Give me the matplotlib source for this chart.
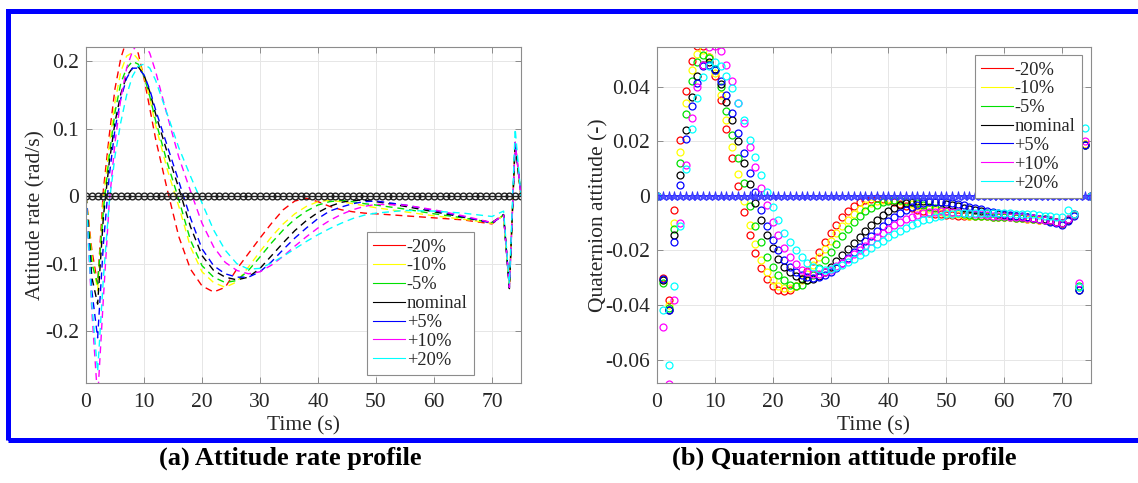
import matplotlib
matplotlib.use("Agg")
import matplotlib.pyplot as plt
from matplotlib.lines import Line2D
from matplotlib.patches import Rectangle

plt.rcParams['font.family'] = ['Liberation Serif', 'DejaVu Serif']
plt.rcParams['axes.unicode_minus'] = False

# legend labels and MATLAB style colours
labels = ['-20%', '-10%', '-5%', 'nominal', '+5%', '+10%', '+20%']
colors = ['#ff0000', '#ffff00', '#00e000', '#000000', '#0000ff', '#ff00ff', '#00ffff']

# ---- (a) attitude rate, rad/s ----
t_rate = [0, 1, 2, 3, 4, 5, 6, 7, 8, 9, 10, 11, 12, 14, 16, 18, 20, 22, 24, 26,
          28, 30, 32, 34, 36, 38, 40, 42, 44, 46, 48, 50, 55, 60, 65, 70, 72, 73, 74, 75]
rate_m20 = [0, -0.08, -0.13, 0.01, 0.09, 0.16, 0.205, 0.232, 0.232, 0.212, 0.175, 0.13, 0.085,
            0.01, -0.06, -0.108, -0.133, -0.142, -0.135, -0.108, -0.085, -0.062, -0.04, -0.02,
            -0.007, -0.003, -0.008, -0.015, -0.02, -0.023, -0.025, -0.026, -0.029, -0.032,
            -0.035, -0.041, -0.028, -0.135, 0.08, 0]
rate_m10 = [0, -0.09, -0.14, -0.005, 0.075, 0.14, 0.185, 0.208, 0.213, 0.203, 0.178, 0.145, 0.105,
            0.04, -0.015, -0.075, -0.112, -0.128, -0.135, -0.127, -0.105, -0.082, -0.06, -0.041,
            -0.026, -0.015, -0.008, -0.006, -0.008, -0.011, -0.014, -0.017, -0.023, -0.029,
            -0.034, -0.04, -0.028, -0.135, 0.08, 0]
rate_m5 = [0, -0.10, -0.13, -0.02, 0.06, 0.125, 0.168, 0.19, 0.2, 0.196, 0.178, 0.148, 0.112,
           0.05, -0.005, -0.065, -0.103, -0.12, -0.128, -0.125, -0.11, -0.09, -0.069, -0.05,
           -0.034, -0.022, -0.013, -0.008, -0.006, -0.008, -0.011, -0.013, -0.019, -0.026,
           -0.032, -0.039, -0.028, -0.135, 0.08, 0]
rate_nom = [0, -0.12, -0.16, -0.03, 0.05, 0.11, 0.152, 0.178, 0.19, 0.192, 0.18, 0.155, 0.122,
            0.065, 0.012, -0.045, -0.088, -0.11, -0.12, -0.124, -0.12, -0.107, -0.088, -0.069,
            -0.051, -0.036, -0.024, -0.015, -0.009, -0.006, -0.006, -0.008, -0.015, -0.023,
            -0.031, -0.039, -0.027, -0.137, 0.08, 0]
rate_p5 = [0, -0.14, -0.21, -0.07, 0.03, 0.1, 0.145, 0.175, 0.19, 0.19, 0.18, 0.158, 0.128,
           0.075, 0.022, -0.032, -0.078, -0.103, -0.115, -0.12, -0.12, -0.112, -0.097, -0.079,
           -0.062, -0.047, -0.033, -0.022, -0.016, -0.011, -0.008, -0.007, -0.013, -0.021,
           -0.03, -0.04, -0.028, -0.135, 0.08, 0]
rate_p10 = [0, -0.17, -0.30, -0.15, -0.01, 0.08, 0.145, 0.19, 0.215, 0.228, 0.228, 0.212, 0.185,
            0.12, 0.058, 0.008, -0.04, -0.075, -0.098, -0.11, -0.115, -0.112, -0.102, -0.089,
            -0.074, -0.06, -0.047, -0.036, -0.027, -0.02, -0.015, -0.012, -0.013, -0.02,
            -0.029, -0.039, -0.028, -0.135, 0.08, 0]
rate_p20 = [0, -0.16, -0.26, -0.12, -0.01, 0.06, 0.11, 0.15, 0.178, 0.193, 0.196, 0.19, 0.172,
            0.122, 0.072, 0.03, -0.01, -0.05, -0.08, -0.1, -0.108, -0.107, -0.099, -0.089,
            -0.078, -0.067, -0.057, -0.048, -0.04, -0.033, -0.028, -0.025, -0.021, -0.022,
            -0.025, -0.03, -0.022, -0.13, 0.1, 0]

# ---- (b) quaternion attitude, one sample per second ----
t_q = list(range(76))
q_m20 = [0, -0.030, -0.038, -0.005, 0.0205, 0.0385, 0.0495, 0.0550, 0.0550, 0.0510,
         0.0440, 0.0350, 0.0245, 0.0140, 0.0035, -0.0060, -0.0145, -0.0210, -0.0265, -0.0305,
         -0.0330, -0.0345, -0.0350, -0.0345, -0.0330, -0.0305, -0.0275, -0.0240, -0.0205, -0.0170,
         -0.0135, -0.0105, -0.0078, -0.0055, -0.0037, -0.0024, -0.0015, -0.0010, -0.0009, -0.0011,
         -0.0016, -0.0022, -0.0029, -0.0036, -0.0043, -0.0050, -0.0056, -0.0061, -0.0065, -0.0068,
         -0.0070, -0.0071, -0.0072, -0.0073, -0.0073, -0.0074, -0.0075, -0.0075, -0.0076, -0.0077,
         -0.0078, -0.0079, -0.0080, -0.0081, -0.0083, -0.0085, -0.0087, -0.0090, -0.0093, -0.0097,
         -0.0102, -0.0088, -0.0070, -0.0335, 0.0190, 0.0]
q_m10 = [0, -0.031, -0.040, -0.010, 0.016, 0.034, 0.046, 0.052, 0.0535, 0.051,
         0.045, 0.037, 0.028, 0.018, 0.008, -0.002, -0.0105, -0.0175, -0.0235, -0.028,
         -0.031, -0.033, -0.0338, -0.0338, -0.033, -0.031, -0.0285, -0.0255, -0.0225, -0.0195,
         -0.0165, -0.0137, -0.011, -0.0087, -0.0066, -0.0049, -0.0035, -0.0025, -0.0018, -0.0014,
         -0.0013, -0.0015, -0.0019, -0.0024, -0.0030, -0.0036, -0.0042, -0.0048, -0.0053, -0.0058,
         -0.0062, -0.0065, -0.0068, -0.0070, -0.0072, -0.0073, -0.0074, -0.0075, -0.0076, -0.0077,
         -0.0078, -0.0079, -0.0080, -0.0081, -0.0083, -0.0085, -0.0087, -0.0090, -0.0093, -0.0097,
         -0.0102, -0.0087, -0.0069, -0.0335, 0.0190, 0.0]
q_m5 = [0, -0.032, -0.041, -0.012, 0.012, 0.030, 0.042, 0.049, 0.0517, 0.0505,
        0.046, 0.040, 0.0313, 0.0224, 0.0138, 0.0046, -0.0037, -0.011, -0.017, -0.0225,
        -0.026, -0.029, -0.031, -0.0325, -0.033, -0.0325, -0.031, -0.029, -0.0265, -0.0235,
        -0.0205, -0.0175, -0.0147, -0.012, -0.0096, -0.0075, -0.0057, -0.0043, -0.0032, -0.0024,
        -0.0019, -0.0016, -0.0016, -0.0018, -0.0022, -0.0027, -0.0033, -0.0039, -0.0045, -0.0051,
        -0.0056, -0.0060, -0.0064, -0.0067, -0.0070, -0.0072, -0.0074, -0.0075, -0.0076, -0.0077,
        -0.0078, -0.0079, -0.0080, -0.0081, -0.0082, -0.0084, -0.0086, -0.0089, -0.0092, -0.0096,
        -0.0101, -0.0086, -0.0068, -0.0330, 0.0185, 0.0]
q_nom = [0, -0.031, -0.042, -0.0143, 0.0077, 0.024, 0.0362, 0.044, 0.048, 0.049,
         0.0465, 0.041, 0.0346, 0.028, 0.020, 0.012, 0.0043, -0.0027, -0.009, -0.0145,
         -0.019, -0.023, -0.026, -0.028, -0.0295, -0.0305, -0.031, -0.0305, -0.0295, -0.028,
         -0.026, -0.024, -0.0218, -0.0195, -0.0172, -0.015, -0.0128, -0.0107, -0.0088, -0.0071,
         -0.0056, -0.0044, -0.0034, -0.0027, -0.0022, -0.0019, -0.0018, -0.0019, -0.0021, -0.0024,
         -0.0028, -0.0033, -0.0038, -0.0043, -0.0048, -0.0053, -0.0057, -0.0061, -0.0064, -0.0067,
         -0.0070, -0.0072, -0.0074, -0.0076, -0.0078, -0.0080, -0.0083, -0.0086, -0.0090, -0.0095,
         -0.0101, -0.0087, -0.0068, -0.0345, 0.0185, 0.0]
q_p5 = [0, -0.0305, -0.042, -0.0168, 0.004, 0.0208, 0.0328, 0.0413, 0.0475, 0.048,
        0.0462, 0.042, 0.037, 0.0303, 0.023, 0.0157, 0.0083, 0.0015, -0.005, -0.011,
        -0.016, -0.020, -0.0235, -0.026, -0.028, -0.029, -0.0298, -0.030, -0.0298, -0.029,
        -0.0278, -0.0263, -0.0245, -0.0226, -0.0206, -0.0186, -0.0166, -0.0146, -0.0127, -0.0109,
        -0.0092, -0.0077, -0.0063, -0.0051, -0.0041, -0.0033, -0.0027, -0.0023, -0.0021, -0.0021,
        -0.0023, -0.0026, -0.0030, -0.0034, -0.0039, -0.0044, -0.0049, -0.0054, -0.0058, -0.0062,
        -0.0066, -0.0069, -0.0072, -0.0075, -0.0078, -0.0081, -0.0085, -0.0089, -0.0094, -0.0101,
        -0.0108, -0.0092, -0.0072, -0.0345, 0.0188, 0.0]
q_p10 = [0, -0.048, -0.069, -0.038, -0.0098, 0.0114, 0.0285, 0.040, 0.048, 0.0545,
         0.055, 0.053, 0.048, 0.042, 0.034, 0.0267, 0.018, 0.0105, 0.0028, -0.0033,
         -0.0095, -0.0145, -0.019, -0.0225, -0.025, -0.027, -0.028, -0.0285, -0.0285, -0.028,
         -0.027, -0.0258, -0.0245, -0.023, -0.0214, -0.0198, -0.0182, -0.0166, -0.0150, -0.0135,
         -0.0120, -0.0107, -0.0095, -0.0085, -0.0076, -0.0069, -0.0064, -0.0060, -0.0058, -0.0057,
         -0.0057, -0.0058, -0.0060, -0.0062, -0.0064, -0.0066, -0.0068, -0.0070, -0.0072, -0.0073,
         -0.0075, -0.0076, -0.0077, -0.0079, -0.0080, -0.0082, -0.0084, -0.0087, -0.0090, -0.0094,
         -0.0098, -0.0085, -0.0068, -0.0320, 0.0200, 0.0]
q_p20 = [0, -0.042, -0.062, -0.033, -0.011, 0.0098, 0.0245, 0.036, 0.0435, 0.0475,
         0.049, 0.0475, 0.044, 0.0395, 0.034, 0.0279, 0.0205, 0.0144, 0.0077, 0.0015,
         -0.004, -0.009, -0.0135, -0.017, -0.020, -0.0225, -0.0245, -0.026, -0.0268, -0.027,
         -0.0268, -0.0262, -0.0253, -0.0242, -0.0230, -0.0218, -0.0205, -0.0192, -0.0178, -0.0165,
         -0.0152, -0.0140, -0.0128, -0.0117, -0.0107, -0.0098, -0.0090, -0.0083, -0.0077, -0.0072,
         -0.0068, -0.0066, -0.0064, -0.0063, -0.0062, -0.0062, -0.0062, -0.0062, -0.0062, -0.0063,
         -0.0063, -0.0064, -0.0065, -0.0066, -0.0067, -0.0068, -0.0070, -0.0072, -0.0074, -0.0076,
         -0.0078, -0.0050, -0.0065, -0.0335, 0.0250, 0.0]

zero_ref = [0.0] * 76

x_ticks = [0, 10, 20, 30, 40, 50, 60, 70]
rate_ticks = [-0.2, -0.1, 0, 0.1, 0.2]
rate_ticklabels = ['-0.2', '-0.1', '0', '0.1', '0.2']
q_ticks = [-0.06, -0.04, -0.02, 0, 0.02, 0.04]
q_ticklabels = ['-0.06', '-0.04', '-0.02', '0', '0.02', '0.04']

rate_series = [rate_m20, rate_m10, rate_m5, rate_nom, rate_p5, rate_p10, rate_p20]
q_series = [q_m20, q_m10, q_m5, q_nom, q_p5, q_p10, q_p20]

fig = plt.figure(figsize=(11.38, 4.83), dpi=100)
ax1 = fig.add_axes([0.0756, 0.207, 0.3822, 0.6957])
ax2 = fig.add_axes([0.5773, 0.207, 0.3814, 0.6957])


def style(ax):
    ax.grid(True, color='#e6e6e6', lw=0.7)
    ax.set_axisbelow(True)
    for s in ax.spines.values():
        s.set_color('#8c8c8c')
        s.set_linewidth(0.8)
    ax.tick_params(direction='in', top=True, right=True, length=4, width=0.7,
                   color='#8c8c8c', labelsize=15.5, labelcolor='#262626')
    ax.tick_params(axis='x', pad=7)
    ax.tick_params(axis='y', pad=5)
    ax.set_xlim(0, 75)
    ax.set_xticks(x_ticks)
    ax.set_xlabel('Time (s)', fontsize=15.5, color='#262626', labelpad=3)


for vals, c in zip(rate_series, colors):
    ax1.plot(t_rate, vals, color=c, lw=1.0, ls=(0, (5, 3.5)))
ax1.plot(t_q, zero_ref, color='#202020', lw=1.0, marker='o', ms=4.8,
         mfc='none', mew=1.0)
style(ax1)
ax1.set_ylim(-0.277, 0.2214)
ax1.set_yticks(rate_ticks)
ax1.set_yticklabels(rate_ticklabels)
ax1.set_ylabel('Attitude rate (rad/s)', fontsize=15.5, color='#262626', labelpad=-0.5)

for vals, c in zip(q_series, colors):
    ax2.plot(t_q, vals, ls='none', marker='o', ms=5.0, mfc='none', mec=c, mew=0.9)
ax2.plot(t_q, zero_ref, color='#3030ff', lw=1.2, marker='*', ms=6.5,
         mfc='#5050ff', mec='#3030ff', mew=0.6)
style(ax2)
ax2.set_ylim(-0.0686, 0.0546)
ax2.set_yticks(q_ticks)
ax2.set_yticklabels(q_ticklabels)
ax2.set_ylabel('Quaternion attitude (-)', fontsize=15.5, color='#262626', labelpad=-2.5)

handles = [Line2D([], [], color=c, lw=0.8) for c in colors]
leg_kw = dict(fontsize=13.3, handlelength=1.7, handletextpad=0.1, labelspacing=0.1,
              borderpad=0.35, borderaxespad=0, fancybox=False, framealpha=1,
              edgecolor='#8c8c8c')
leg1 = ax1.legend(handles, labels, loc='upper left', bbox_to_anchor=(0.646, 0.449), **leg_kw)
leg2 = ax2.legend(handles, labels, loc='upper right', bbox_to_anchor=(0.979, 0.976), **leg_kw)
for leg in (leg1, leg2):
    leg.get_frame().set_linewidth(0.8)
    for txt in leg.get_texts():
        txt.set_color('#262626')

# blue frame around both panels
fig.add_artist(Rectangle((0.0066, 0.09), 1.05, 0.888, transform=fig.transFigure,
                         fill=False, edgecolor='#0000ff', lw=3.6, clip_on=False))

fig.text(0.255, 0.052, '(a) Attitude rate profile', ha='center', va='center',
         fontsize=19, fontweight='bold')
fig.text(0.742, 0.052, '(b) Quaternion attitude profile', ha='center', va='center',
         fontsize=19, fontweight='bold')

fig.savefig('out.png', dpi=100)
